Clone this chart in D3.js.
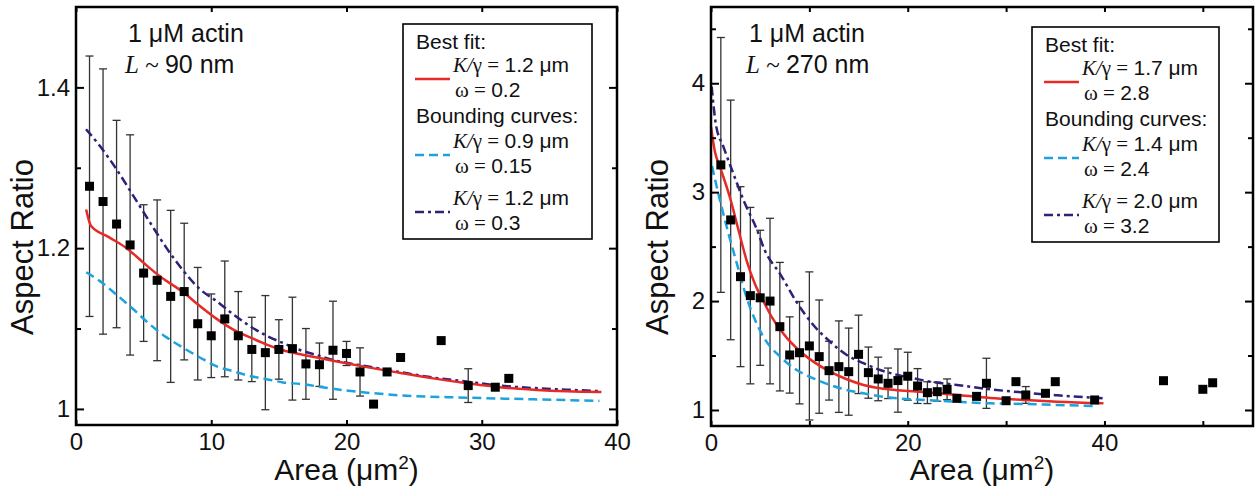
<!DOCTYPE html>
<html>
<head>
<meta charset="utf-8">
<script src="https://cdn.jsdelivr.net/npm/d3@7"></script>
<style>
body{margin:0;background:#fff;}
text{font-family:"Liberation Sans",Arial,sans-serif;fill:#111;}
.serif{font-family:"Liberation Serif","Times New Roman",serif;}
</style>
</head>
<body>
<svg id="fig" width="1258" height="496"></svg>
<script>
// ---- left panel (L ~ 90 nm) ----
var leftArea  = [1,2,3,4,5,6,7,8,9,10,11,12,13,14,15,16,17,18,19,20,21,22,23,24,27,29,31,32];
var leftRatio = [1.277,1.258,1.230,1.204,1.169,1.160,1.140,1.146,1.106,1.091,1.112,1.091,1.074,1.070,1.074,1.075,1.056,1.055,1.073,1.069,1.046,1.006,1.046,1.064,1.085,1.029,1.027,1.038];
var leftErr   = [0.162,0.165,0.129,0.137,0.085,0.100,0.107,0.085,0.070,0.052,0.072,0.055,0.040,0.071,0.037,0.064,0.044,0.027,0.061,0.015,0.030,0,0,0,0,0.021,0,0];
var leftBestFit = [[0.75,1.248],[1.1,1.228],[2.4,1.214],[3.74,1.200],[4.98,1.182],[6.2,1.165],[7.93,1.145],[9.16,1.128],[10.4,1.112],[11.6,1.099],[12.86,1.089],[14.1,1.080],[15.3,1.073],[16.6,1.068],[17.8,1.064],[19.0,1.060],[21.5,1.052],[23.9,1.045],[26.4,1.038],[28.9,1.032],[31.3,1.027],[33.8,1.024],[36.3,1.022],[38.85,1.021]];
var leftLower = [[0.75,1.170],[1.77,1.159],[3.0,1.142],[4.24,1.124],[5.47,1.105],[6.7,1.089],[7.93,1.076],[9.16,1.064],[10.4,1.053],[11.6,1.047],[12.86,1.041],[14.1,1.037],[15.3,1.033],[16.6,1.031],[19.0,1.025],[23.9,1.017],[28.9,1.014],[33.8,1.012],[38.7,1.010]];
var leftUpper = [[0.74,1.348],[1.77,1.327],[3.0,1.298],[4.24,1.265],[5.47,1.232],[6.7,1.200],[7.93,1.172],[9.16,1.149],[10.4,1.134],[11.6,1.118],[12.86,1.103],[14.1,1.091],[15.3,1.082],[16.6,1.073],[17.8,1.067],[19.0,1.061],[21.5,1.053],[23.9,1.046],[26.4,1.039],[28.9,1.034],[31.3,1.029],[33.8,1.026],[36.3,1.024],[38.85,1.022]];
var leftKg = ["1.2","0.9","1.2"];
var leftOmega = ["0.2","0.15","0.3"];
var leftXMajor = [0,10,20,30,40], leftXMinor = [];
var leftYMajor = [1,1.2,1.4], leftYMinor = [1.1,1.3];

// ---- right panel (L ~ 270 nm) ----
var rightArea  = [1,2,3,4,5,6,7,8,9,10,11,12,13,14,15,16,17,18,19,20,21,22,23,24,25,27,28,30,31,32,34,35,39,46,50,51];
var rightRatio = [3.25,2.745,2.224,2.05,2.03,2.0,1.765,1.505,1.526,1.588,1.49,1.361,1.398,1.352,1.511,1.343,1.285,1.245,1.27,1.31,1.22,1.159,1.168,1.19,1.107,1.125,1.245,1.085,1.26,1.138,1.153,1.26,1.092,1.269,1.19,1.25];
var rightErr   = [1.17,1.1,0.826,0.81,0.62,0.76,0.59,0.35,0.47,0.68,0.52,0.27,0.42,0.40,0.36,0.235,0.20,0.14,0.29,0.22,0.16,0.10,0.087,0.095,0,0.03,0.23,0,0,0.077,0,0,0,0,0,0];
var rightBestFit = [[0.0,3.60],[0.4,3.37],[0.92,3.23],[1.93,2.95],[2.8,2.65],[3.63,2.37],[4.5,2.15],[5.32,2.0],[6.2,1.85],[7.02,1.74],[8.71,1.567],[10.4,1.444],[12.1,1.352],[13.8,1.282],[15.5,1.23],[17.2,1.20],[19.0,1.182],[21.6,1.165],[25.0,1.138],[28.4,1.11],[31.8,1.092],[35.2,1.076],[39.9,1.061]];
var rightLower = [[0.1,3.24],[0.58,3.05],[1.6,2.68],[2.61,2.35],[3.63,2.03],[5.32,1.673],[7.02,1.49],[8.71,1.367],[10.4,1.291],[12.1,1.23],[13.8,1.184],[15.5,1.153],[17.2,1.125],[19.0,1.107],[21.6,1.092],[25.0,1.076],[28.4,1.061],[31.8,1.055],[35.2,1.046],[38.9,1.037]];
var rightUpper = [[0.07,3.97],[0.5,3.62],[1.25,3.42],[2.27,3.17],[3.29,2.93],[4.65,2.66],[5.5,2.46],[7.02,2.25],[8.71,1.99],[10.4,1.78],[12.1,1.627],[13.8,1.505],[15.5,1.43],[17.2,1.367],[19.0,1.321],[20.6,1.291],[22.3,1.26],[25.0,1.23],[28.4,1.19],[31.8,1.16],[35.2,1.135],[40.0,1.107]];
var rightKg = ["1.7","1.4","2.0"];
var rightOmega = ["2.8","2.4","3.2"];
var rightXMajor = [0,20,40], rightXMinor = [10,30,50];
var rightYMajor = [1,2,3,4], rightYMinor = [1.5,2.5,3.5,4.5];

var RED = "#e42b26", CYAN = "#1ca3de", NAVY = "#2d2178";

var svg = d3.select("#fig");
svg.append("rect").attr("width",1258).attr("height",496).attr("fill","#fff");

function drawPanel(p){
	var g = svg.append("g");
	var x = d3.scaleLinear().domain(p.xDomain).range([p.left, p.right]);
	var y = d3.scaleLinear().domain(p.yDomain).range([p.bottom, p.top]);

	var line = d3.line()
		.x(function(d){ return x(d[0]); })
		.y(function(d){ return y(d[1]); })
		.curve(d3.curveMonotoneX);

	// error bars
	var pts = p.area.map(function(a,i){ return {a:a, r:p.ratio[i], e:p.err[i]}; });
	var eb = g.append("g").attr("stroke","#333").attr("stroke-width",1.3);
	pts.filter(function(d){ return d.e > 0; }).forEach(function(d){
		var cx = x(d.a), y1 = y(d.r + d.e), y2 = y(d.r - d.e);
		eb.append("line").attr("x1",cx).attr("x2",cx).attr("y1",y1).attr("y2",y2);
		eb.append("line").attr("x1",cx-4).attr("x2",cx+4).attr("y1",y1).attr("y2",y1);
		eb.append("line").attr("x1",cx-4).attr("x2",cx+4).attr("y1",y2).attr("y2",y2);
	});

	// curves
	g.append("path").datum(p.lower).attr("d",line).attr("fill","none")
		.attr("stroke",CYAN).attr("stroke-width",2.5).attr("stroke-dasharray","9,5");
	g.append("path").datum(p.upper).attr("d",line).attr("fill","none")
		.attr("stroke",NAVY).attr("stroke-width",2.5).attr("stroke-dasharray","9,4,3,4");
	g.append("path").datum(p.fit).attr("d",line).attr("fill","none")
		.attr("stroke",RED).attr("stroke-width",2.5);

	// markers
	g.selectAll("rect.pt").data(pts).enter().append("rect")
		.attr("class","pt")
		.attr("x",function(d){ return x(d.a)-4.5; })
		.attr("y",function(d){ return y(d.r)-4.5; })
		.attr("width",9).attr("height",9).attr("fill","#000");

	// axes (ticks point inward)
	function styleAxis(sel){
		sel.select(".domain").remove();
		sel.selectAll(".tick line").attr("stroke","#000").attr("stroke-width",2);
		sel.selectAll(".tick text").attr("font-size",24).attr("fill","#111")
			.style("font-family","'Liberation Sans',Arial,sans-serif");
	}
	var fmt = function(d){ return String(d); };
	g.append("g").attr("transform","translate(0,"+p.bottom+")")
		.call(d3.axisBottom(x).tickValues(p.xMajor).tickSize(-5).tickPadding(8).tickFormat(fmt)).call(styleAxis);
	g.append("g").attr("transform","translate(0,"+p.bottom+")")
		.call(d3.axisBottom(x).tickValues(p.xMinor).tickSize(-5).tickFormat("")).call(styleAxis);
	g.append("g").attr("transform","translate(0,"+p.top+")")
		.call(d3.axisTop(x).tickValues(p.xMajor.concat(p.xMinor)).tickSize(-5).tickFormat("")).call(styleAxis);
	g.append("g").attr("transform","translate("+p.left+",0)")
		.call(d3.axisLeft(y).tickValues(p.yMajor).tickSize(-8).tickPadding(6).tickFormat(fmt)).call(styleAxis);
	g.append("g").attr("transform","translate("+p.left+",0)")
		.call(d3.axisLeft(y).tickValues(p.yMinor).tickSize(-5).tickFormat("")).call(styleAxis);
	g.append("g").attr("transform","translate("+p.right+",0)")
		.call(d3.axisRight(y).tickValues(p.yMajor).tickSize(-8).tickFormat("")).call(styleAxis);
	g.append("g").attr("transform","translate("+p.right+",0)")
		.call(d3.axisRight(y).tickValues(p.yMinor).tickSize(-5).tickFormat("")).call(styleAxis);

	// frame
	g.append("rect").attr("x",p.left).attr("y",p.top)
		.attr("width",p.right-p.left).attr("height",p.bottom-p.top)
		.attr("fill","none").attr("stroke","#000").attr("stroke-width",2.5);

	// axis titles
	var xt = g.append("text").attr("x",(p.left+p.right)/2).attr("y",480)
		.attr("text-anchor","middle").attr("font-size",30);
	xt.append("tspan").text("Area (μm");
	xt.append("tspan").attr("dy",-11).attr("font-size",19).text("2");
	xt.append("tspan").attr("dy",11).text(")");
	g.append("text").attr("transform","translate("+(p.left-43)+",247)rotate(-90)")
		.attr("text-anchor","middle").attr("font-size",31).text("Aspect Ratio");

	// annotation
	g.append("text").attr("x",p.annX+3).attr("y",42).attr("font-size",25).text("1 μM actin");
	var la = g.append("text").attr("x",p.annX).attr("y",73).attr("font-size",25);
	la.append("tspan").attr("class","serif").attr("font-style","italic").text("L");
	la.append("tspan").attr("class","serif").text(" ~ ");
	la.append("tspan").text(p.lengthLabel);

	// legend
	var L = p.legend;
	var lg = g.append("g").attr("transform","translate("+L.x+","+L.y+")");
	lg.append("rect").attr("width",L.w).attr("height",L.h)
		.attr("fill","#fff").attr("stroke","#000").attr("stroke-width",1.6);
	var rows = [
		{head:"Best fit:", hy:25, ky:48, color:RED, dash:null},
		{head:"Bounding curves:", hy:99, ky:124, color:CYAN, dash:"9,5"},
		{head:null, hy:0, ky:181, color:NAVY, dash:"9,4,3,4"}
	];
	rows.forEach(function(r,i){
		if(r.head) lg.append("text").attr("x",13).attr("y",r.hy).attr("font-size",21).text(r.head);
		var kt = lg.append("text").attr("x",50).attr("y",r.ky).attr("font-size",21);
		kt.append("tspan").attr("class","serif").attr("font-style","italic").text("K/");
		kt.append("tspan").attr("class","serif").text("γ = ");
		kt.append("tspan").text(p.kg[i] + " μm");
		var wt = lg.append("text").attr("x",52).attr("y",r.ky+25).attr("font-size",21);
		wt.append("tspan").attr("class","serif").text("ω = ");
		wt.append("tspan").text(p.omega[i]);
		lg.append("line").attr("x1",12).attr("x2",47).attr("y1",r.ky+7).attr("y2",r.ky+7)
			.attr("stroke",r.color).attr("stroke-width",2.5)
			.attr("stroke-dasharray",r.dash);
	});
}

drawPanel({
	left:76, right:617, top:7, bottom:425,
	xDomain:[0,40], yDomain:[0.98,1.5],
	area:leftArea, ratio:leftRatio, err:leftErr,
	fit:leftBestFit, lower:leftLower, upper:leftUpper,
	xMajor:leftXMajor, xMinor:leftXMinor, yMajor:leftYMajor, yMinor:leftYMinor,
	annX:125, lengthLabel:"90 nm",
	kg:leftKg, omega:leftOmega,
	legend:{x:403, y:24, w:189, h:215}
});

drawPanel({
	left:711, right:1253, top:7, bottom:426,
	xDomain:[0,55.1], yDomain:[0.853,4.7],
	area:rightArea, ratio:rightRatio, err:rightErr,
	fit:rightBestFit, lower:rightLower, upper:rightUpper,
	xMajor:rightXMajor, xMinor:rightXMinor, yMajor:rightYMajor, yMinor:rightYMinor,
	annX:746, lengthLabel:"270 nm",
	kg:rightKg, omega:rightOmega,
	legend:{x:1032, y:27, w:187, h:215}
});
</script>
</body>
</html>
